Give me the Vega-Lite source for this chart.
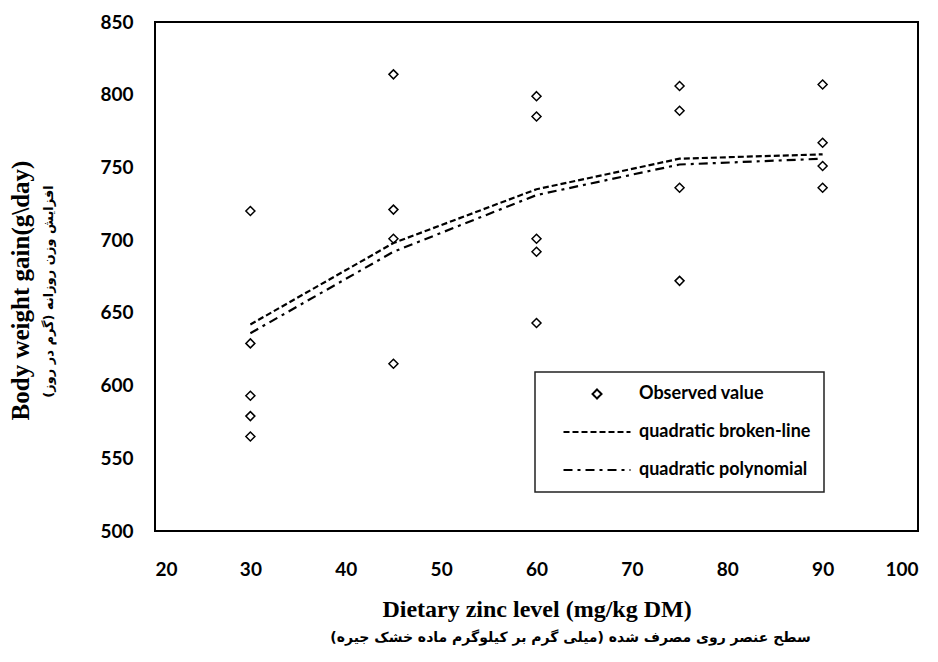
{
  "$schema": "https://vega.github.io/schema/vega-lite/v6.json",
  "width": 763,
  "height": 509,
  "autosize": {"type": "none"},
  "padding": {"left": 155, "top": 22, "right": 20, "bottom": 131},
  "background": "white",
  "config": {
    "view": {"stroke": "black", "strokeWidth": 2},
    "axis": {
      "grid": false,
      "domain": false,
      "ticks": false,
      "labelFont": "Lato",
      "labelFontWeight": "bold",
      "labelFontSize": 19,
      "labelColor": "black",
      "titleColor": "black"
    },
    "legend": {
      "orient": "none",
      "legendX": 380,
      "legendY": 350,
      "strokeColor": "#222",
      "strokeWidth": 1.5,
      "fillColor": "white",
      "padding": 13,
      "labelFont": "Lato",
      "labelFontWeight": "bold",
      "labelFontSize": 18,
      "labelLimit": 400,
      "labelColor": "black",
      "symbolStrokeColor": "black",
      "symbolStrokeWidth": 2,
      "symbolFillColor": "transparent",
      "symbolSize": 100,
      "symbolOffset": 40,
      "labelOffset": 33,
      "rowPadding": 20
    }
  },
  "resolve": {"axis": {"x": "independent", "y": "independent"}},
  "datasets": {
    "obs": [
      {"zinc": 30, "gain": 720, "series": "Observed value"},
      {"zinc": 30, "gain": 629, "series": "Observed value"},
      {"zinc": 30, "gain": 593, "series": "Observed value"},
      {"zinc": 30, "gain": 579, "series": "Observed value"},
      {"zinc": 30, "gain": 565, "series": "Observed value"},
      {"zinc": 45, "gain": 814, "series": "Observed value"},
      {"zinc": 45, "gain": 721, "series": "Observed value"},
      {"zinc": 45, "gain": 701, "series": "Observed value"},
      {"zinc": 45, "gain": 615, "series": "Observed value"},
      {"zinc": 60, "gain": 799, "series": "Observed value"},
      {"zinc": 60, "gain": 785, "series": "Observed value"},
      {"zinc": 60, "gain": 701, "series": "Observed value"},
      {"zinc": 60, "gain": 692, "series": "Observed value"},
      {"zinc": 60, "gain": 643, "series": "Observed value"},
      {"zinc": 75, "gain": 806, "series": "Observed value"},
      {"zinc": 75, "gain": 789, "series": "Observed value"},
      {"zinc": 75, "gain": 736, "series": "Observed value"},
      {"zinc": 75, "gain": 672, "series": "Observed value"},
      {"zinc": 90, "gain": 807, "series": "Observed value"},
      {"zinc": 90, "gain": 767, "series": "Observed value"},
      {"zinc": 90, "gain": 751, "series": "Observed value"},
      {"zinc": 90, "gain": 736, "series": "Observed value"}
    ],
    "fits": [
      {"zinc": 30, "gain": 642, "series": "quadratic broken-line"},
      {"zinc": 45, "gain": 698, "series": "quadratic broken-line"},
      {"zinc": 60, "gain": 735, "series": "quadratic broken-line"},
      {"zinc": 75, "gain": 756, "series": "quadratic broken-line"},
      {"zinc": 90, "gain": 759, "series": "quadratic broken-line"},
      {"zinc": 30, "gain": 636, "series": "quadratic polynomial"},
      {"zinc": 45, "gain": 692, "series": "quadratic polynomial"},
      {"zinc": 60, "gain": 731, "series": "quadratic polynomial"},
      {"zinc": 75, "gain": 752, "series": "quadratic polynomial"},
      {"zinc": 90, "gain": 756, "series": "quadratic polynomial"}
    ]
  },
  "layer": [
    {
      "data": {"name": "fits"},
      "mark": {"type": "line", "color": "black", "strokeWidth": 2.2},
      "encoding": {
        "x": {
          "field": "zinc",
          "type": "quantitative",
          "scale": {"domain": [20, 100], "nice": false, "zero": false},
          "axis": {
            "orient": "bottom",
            "values": [20, 30, 40, 50, 60, 70, 80, 90, 100],
            "labelPadding": 29,
            "titlePadding": 18,
            "titleFont": "Liberation Serif",
            "titleFontWeight": "bold",
            "titleFontSize": 24,
            "title": "Dietary zinc level (mg/kg DM)"
          }
        },
        "y": {
          "field": "gain",
          "type": "quantitative",
          "scale": {"domain": [500, 850], "nice": false, "zero": false},
          "axis": {
            "orient": "left",
            "values": [500, 550, 600, 650, 700, 750, 800, 850],
            "labelPadding": 22,
            "titlePadding": 44,
            "titleY": 269,
            "titleFont": "DejaVu Sans",
            "titleFontWeight": "bold",
            "titleFontSize": 13,
            "title": "افزایش وزن روزانه (گرم در روز)"
          }
        },
        "strokeDash": {
          "field": "series",
          "type": "nominal",
          "scale": {
            "domain": ["Observed value", "quadratic broken-line", "quadratic polynomial"],
            "range": [[1, 0], [6, 3], [9, 5, 3, 5]]
          },
          "legend": {"title": null}
        }
      }
    },
    {
      "data": {"name": "obs"},
      "mark": {"type": "point", "filled": false, "color": "black", "strokeWidth": 1.5, "size": 100, "opacity": 1},
      "encoding": {
        "x": {
          "field": "zinc",
          "type": "quantitative",
          "axis": {
            "orient": "bottom",
            "offset": 95,
            "values": [20, 30, 40, 50, 60, 70, 80, 90, 100],
            "labels": false,
            "titlePadding": 4,
            "titleX": 415,
            "titleFont": "DejaVu Sans",
            "titleFontWeight": "bold",
            "titleFontSize": 14,
            "title": "سطح عنصر روی مصرف شده (میلی گرم بر کیلوگرم ماده خشک جیره)"
          }
        },
        "y": {
          "field": "gain",
          "type": "quantitative",
          "axis": {
            "orient": "left",
            "offset": 118,
            "values": [500, 550, 600, 650, 700, 750, 800, 850],
            "labels": false,
            "titlePadding": 4,
            "titleY": 268,
            "titleFont": "Liberation Serif",
            "titleFontWeight": "bold",
            "titleFontSize": 25,
            "title": "Body weight gain(g\\day)"
          }
        },
        "shape": {
          "field": "series",
          "type": "nominal",
          "scale": {
            "domain": ["Observed value", "quadratic broken-line", "quadratic polynomial"],
            "range": ["M0,-0.9L0.9,0L0,0.9L-0.9,0Z", "M-6.7,0H6.7", "M-6.7,0H6.7"]
          },
          "legend": {"title": null}
        }
      }
    }
  ]
}
